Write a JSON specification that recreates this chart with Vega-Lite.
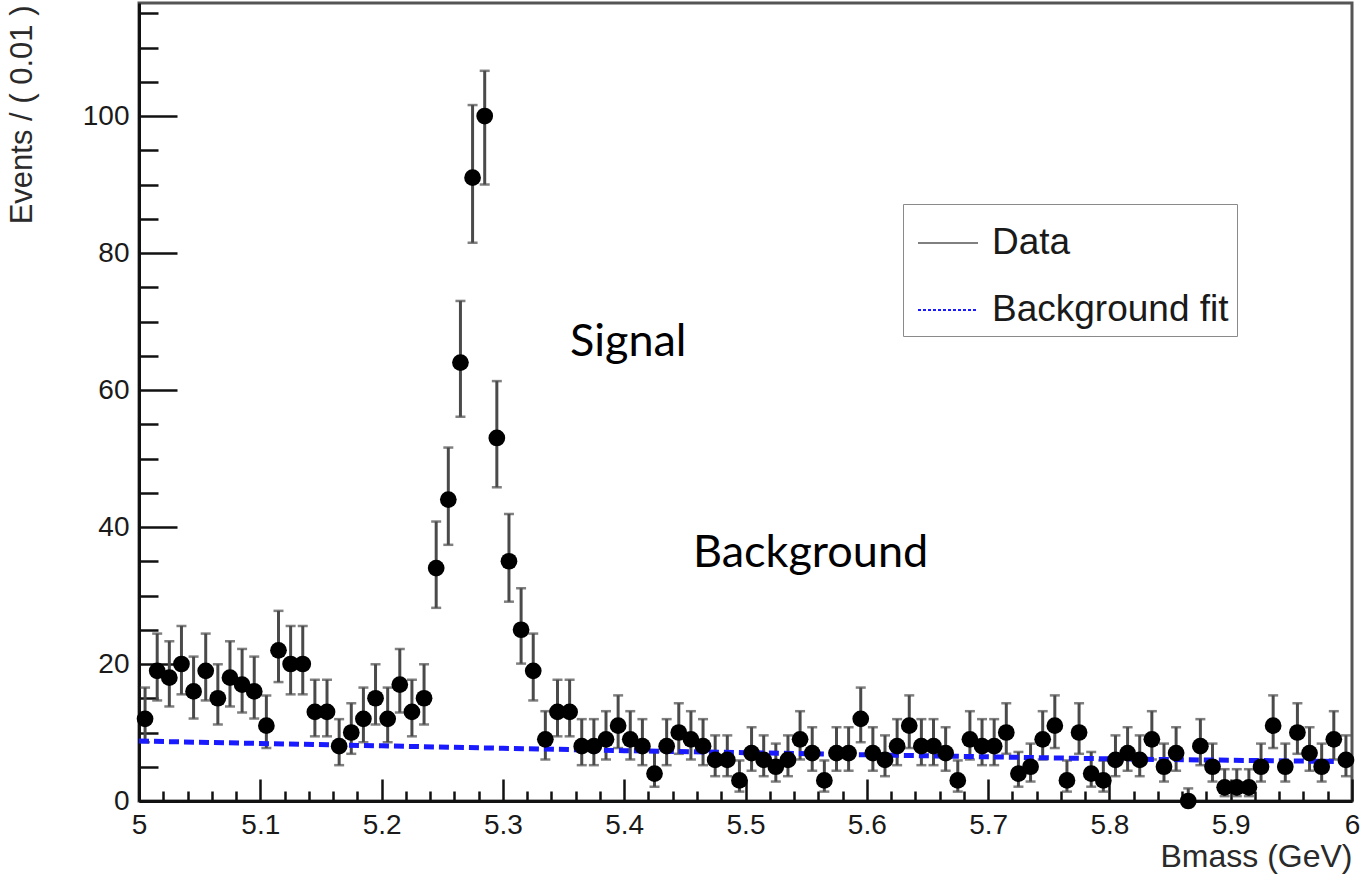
{
  "$schema": "https://vega.github.io/schema/vega-lite/v6.json",
  "width": 1213,
  "height": 798,
  "autosize": {"type": "none"},
  "padding": {"left": 139, "top": 3, "right": 18, "bottom": 78},
  "background": "white",
  "config": {
    "view": {"stroke": "#555555", "strokeWidth": 3},
    "axis": {
      "labelFont": "Liberation Sans",
      "titleFont": "Liberation Sans",
      "labelColor": "#1a1a1a",
      "titleColor": "#2a2a2a",
      "grid": false,
      "labelOverlap": false,
      "labelFlush": false,
      "labelBound": false
    }
  },
  "datasets": {
    "bins": [
      {"m": 5.005, "n": 12, "lo": 8.58, "hi": 16.56},
      {"m": 5.015, "n": 19, "lo": 14.68, "hi": 24.44},
      {"m": 5.025, "n": 18, "lo": 13.80, "hi": 23.32},
      {"m": 5.035, "n": 20, "lo": 15.57, "hi": 25.55},
      {"m": 5.045, "n": 16, "lo": 12.04, "hi": 21.08},
      {"m": 5.055, "n": 19, "lo": 14.68, "hi": 24.44},
      {"m": 5.065, "n": 15, "lo": 11.17, "hi": 19.96},
      {"m": 5.075, "n": 18, "lo": 13.80, "hi": 23.32},
      {"m": 5.085, "n": 17, "lo": 12.92, "hi": 22.20},
      {"m": 5.095, "n": 16, "lo": 12.04, "hi": 21.08},
      {"m": 5.105, "n": 11, "lo": 7.73, "hi": 15.42},
      {"m": 5.115, "n": 22, "lo": 17.36, "hi": 27.76},
      {"m": 5.125, "n": 20, "lo": 15.57, "hi": 25.55},
      {"m": 5.135, "n": 20, "lo": 15.57, "hi": 25.55},
      {"m": 5.145, "n": 13, "lo": 9.44, "hi": 17.70},
      {"m": 5.155, "n": 13, "lo": 9.44, "hi": 17.70},
      {"m": 5.165, "n": 8, "lo": 5.23, "hi": 11.95},
      {"m": 5.175, "n": 10, "lo": 6.89, "hi": 14.27},
      {"m": 5.185, "n": 12, "lo": 8.58, "hi": 16.56},
      {"m": 5.195, "n": 15, "lo": 11.17, "hi": 19.96},
      {"m": 5.205, "n": 12, "lo": 8.58, "hi": 16.56},
      {"m": 5.215, "n": 17, "lo": 12.92, "hi": 22.20},
      {"m": 5.225, "n": 13, "lo": 9.44, "hi": 17.70},
      {"m": 5.235, "n": 15, "lo": 11.17, "hi": 19.96},
      {"m": 5.245, "n": 34, "lo": 28.2, "hi": 40.8},
      {"m": 5.255, "n": 44, "lo": 37.4, "hi": 51.6},
      {"m": 5.265, "n": 64, "lo": 56.1, "hi": 73.0},
      {"m": 5.275, "n": 91, "lo": 81.5, "hi": 101.6},
      {"m": 5.285, "n": 100, "lo": 90.0, "hi": 106.6},
      {"m": 5.295, "n": 53, "lo": 45.8, "hi": 61.3},
      {"m": 5.305, "n": 35, "lo": 29.1, "hi": 41.9},
      {"m": 5.315, "n": 25, "lo": 20.06, "hi": 31.06},
      {"m": 5.325, "n": 19, "lo": 14.68, "hi": 24.44},
      {"m": 5.335, "n": 9, "lo": 6.06, "hi": 13.11},
      {"m": 5.345, "n": 13, "lo": 9.44, "hi": 17.70},
      {"m": 5.355, "n": 13, "lo": 9.44, "hi": 17.70},
      {"m": 5.365, "n": 8, "lo": 5.23, "hi": 11.95},
      {"m": 5.375, "n": 8, "lo": 5.23, "hi": 11.95},
      {"m": 5.385, "n": 9, "lo": 6.06, "hi": 13.11},
      {"m": 5.395, "n": 11, "lo": 7.73, "hi": 15.42},
      {"m": 5.405, "n": 9, "lo": 6.06, "hi": 13.11},
      {"m": 5.415, "n": 8, "lo": 5.23, "hi": 11.95},
      {"m": 5.425, "n": 4, "lo": 2.09, "hi": 7.16},
      {"m": 5.435, "n": 8, "lo": 5.23, "hi": 11.95},
      {"m": 5.445, "n": 10, "lo": 6.89, "hi": 14.27},
      {"m": 5.455, "n": 9, "lo": 6.06, "hi": 13.11},
      {"m": 5.465, "n": 8, "lo": 5.23, "hi": 11.95},
      {"m": 5.475, "n": 6, "lo": 3.62, "hi": 9.58},
      {"m": 5.485, "n": 6, "lo": 3.62, "hi": 9.58},
      {"m": 5.495, "n": 3, "lo": 1.37, "hi": 5.92},
      {"m": 5.505, "n": 7, "lo": 4.42, "hi": 10.77},
      {"m": 5.515, "n": 6, "lo": 3.62, "hi": 9.58},
      {"m": 5.525, "n": 5, "lo": 2.84, "hi": 8.38},
      {"m": 5.535, "n": 6, "lo": 3.62, "hi": 9.58},
      {"m": 5.545, "n": 9, "lo": 6.06, "hi": 13.11},
      {"m": 5.555, "n": 7, "lo": 4.42, "hi": 10.77},
      {"m": 5.565, "n": 3, "lo": 1.37, "hi": 5.92},
      {"m": 5.575, "n": 7, "lo": 4.42, "hi": 10.77},
      {"m": 5.585, "n": 7, "lo": 4.42, "hi": 10.77},
      {"m": 5.595, "n": 12, "lo": 8.58, "hi": 16.56},
      {"m": 5.605, "n": 7, "lo": 4.42, "hi": 10.77},
      {"m": 5.615, "n": 6, "lo": 3.62, "hi": 9.58},
      {"m": 5.625, "n": 8, "lo": 5.23, "hi": 11.95},
      {"m": 5.635, "n": 11, "lo": 7.73, "hi": 15.42},
      {"m": 5.645, "n": 8, "lo": 5.23, "hi": 11.95},
      {"m": 5.655, "n": 8, "lo": 5.23, "hi": 11.95},
      {"m": 5.665, "n": 7, "lo": 4.42, "hi": 10.77},
      {"m": 5.675, "n": 3, "lo": 1.37, "hi": 5.92},
      {"m": 5.685, "n": 9, "lo": 6.06, "hi": 13.11},
      {"m": 5.695, "n": 8, "lo": 5.23, "hi": 11.95},
      {"m": 5.705, "n": 8, "lo": 5.23, "hi": 11.95},
      {"m": 5.715, "n": 10, "lo": 6.89, "hi": 14.27},
      {"m": 5.725, "n": 4, "lo": 2.09, "hi": 7.16},
      {"m": 5.735, "n": 5, "lo": 2.84, "hi": 8.38},
      {"m": 5.745, "n": 9, "lo": 6.06, "hi": 13.11},
      {"m": 5.755, "n": 11, "lo": 7.73, "hi": 15.42},
      {"m": 5.765, "n": 3, "lo": 1.37, "hi": 5.92},
      {"m": 5.775, "n": 10, "lo": 6.89, "hi": 14.27},
      {"m": 5.785, "n": 4, "lo": 2.09, "hi": 7.16},
      {"m": 5.795, "n": 3, "lo": 1.37, "hi": 5.92},
      {"m": 5.805, "n": 6, "lo": 3.62, "hi": 9.58},
      {"m": 5.815, "n": 7, "lo": 4.42, "hi": 10.77},
      {"m": 5.825, "n": 6, "lo": 3.62, "hi": 9.58},
      {"m": 5.835, "n": 9, "lo": 6.06, "hi": 13.11},
      {"m": 5.845, "n": 5, "lo": 2.84, "hi": 8.38},
      {"m": 5.855, "n": 7, "lo": 4.42, "hi": 10.77},
      {"m": 5.865, "n": 0, "lo": 0, "hi": 1.84},
      {"m": 5.875, "n": 8, "lo": 5.23, "hi": 11.95},
      {"m": 5.885, "n": 5, "lo": 2.84, "hi": 8.38},
      {"m": 5.895, "n": 2, "lo": 0.71, "hi": 4.64},
      {"m": 5.905, "n": 2, "lo": 0.71, "hi": 4.64},
      {"m": 5.915, "n": 2, "lo": 0.71, "hi": 4.64},
      {"m": 5.925, "n": 5, "lo": 2.84, "hi": 8.38},
      {"m": 5.935, "n": 11, "lo": 7.73, "hi": 15.42},
      {"m": 5.945, "n": 5, "lo": 2.84, "hi": 8.38},
      {"m": 5.955, "n": 10, "lo": 6.89, "hi": 14.27},
      {"m": 5.965, "n": 7, "lo": 4.42, "hi": 10.77},
      {"m": 5.975, "n": 5, "lo": 2.84, "hi": 8.38},
      {"m": 5.985, "n": 9, "lo": 6.06, "hi": 13.11},
      {"m": 5.995, "n": 6, "lo": 3.62, "hi": 9.58}
    ],
    "fit": [
      {"m": 5.0, "bkg": 8.75, "series": "Background fit"},
      {"m": 5.1, "bkg": 8.4, "series": "Background fit"},
      {"m": 5.2, "bkg": 8.05, "series": "Background fit"},
      {"m": 5.3, "bkg": 7.7, "series": "Background fit"},
      {"m": 5.4, "bkg": 7.35, "series": "Background fit"},
      {"m": 5.5, "bkg": 7.05, "series": "Background fit"},
      {"m": 5.6, "bkg": 6.75, "series": "Background fit"},
      {"m": 5.7, "bkg": 6.45, "series": "Background fit"},
      {"m": 5.8, "bkg": 6.15, "series": "Background fit"},
      {"m": 5.9, "bkg": 5.95, "series": "Background fit"},
      {"m": 6.0, "bkg": 5.75, "series": "Background fit"}
    ],
    "notes": [
      {"label": "Signal"},
      {"label": "Background"}
    ]
  },
  "resolve": {"axis": {"x": "independent", "y": "independent"}},
  "layer": [
    {
      "data": {"name": "bins"},
      "mark": {"type": "rule", "color": "#4a4a4a", "strokeWidth": 3},
      "encoding": {
        "x": {
          "field": "m", "type": "quantitative",
          "scale": {"domain": [5, 6], "nice": false, "zero": false},
          "axis": {
            "orient": "bottom",
            "values": [5.02, 5.04, 5.06, 5.08, 5.12, 5.14, 5.16, 5.18, 5.22, 5.24, 5.26, 5.28, 5.32, 5.34, 5.36, 5.38, 5.42, 5.44, 5.46, 5.48, 5.52, 5.54, 5.56, 5.58, 5.62, 5.64, 5.66, 5.68, 5.72, 5.74, 5.76, 5.78, 5.82, 5.84, 5.86, 5.88, 5.92, 5.94, 5.96, 5.98],
            "labels": false, "domain": false, "title": null,
            "tickSize": -10, "tickWidth": 2.5, "tickColor": "#111111"
          }
        },
        "y": {
          "field": "lo", "type": "quantitative",
          "scale": {"domain": [0, 116.5], "nice": false, "zero": false},
          "axis": {
            "orient": "left",
            "values": [5, 10, 15, 25, 30, 35, 45, 50, 55, 65, 70, 75, 85, 90, 95, 105, 110, 115],
            "labels": false, "domain": false, "title": null,
            "tickSize": -19, "tickWidth": 2.5, "tickColor": "#111111"
          }
        },
        "y2": {"field": "hi"}
      }
    },
    {
      "data": {"name": "bins"},
      "mark": {"type": "tick", "orient": "horizontal", "color": "#4a4a4a", "size": 10, "thickness": 2.5},
      "encoding": {
        "x": {"field": "m", "type": "quantitative", "axis": null},
        "y": {"field": "hi", "type": "quantitative", "axis": null}
      }
    },
    {
      "data": {"name": "bins"},
      "mark": {"type": "tick", "orient": "horizontal", "color": "#4a4a4a", "size": 10, "thickness": 2.5},
      "encoding": {
        "x": {"field": "m", "type": "quantitative", "axis": null},
        "y": {"field": "lo", "type": "quantitative", "axis": null}
      }
    },
    {
      "data": {"name": "fit"},
      "mark": {"type": "line", "strokeWidth": 5, "strokeDash": [10, 5]},
      "encoding": {
        "x": {"field": "m", "type": "quantitative", "axis": null},
        "y": {"field": "bkg", "type": "quantitative", "axis": null},
        "color": {
          "field": "series", "type": "nominal",
          "scale": {"domain": ["Data", "Background fit"], "range": ["#808080", "#1a1aff"]},
          "legend": {
            "title": null,
            "orient": "none",
            "legendX": 764,
            "legendY": 201,
            "symbolType": "stroke",
            "symbolSize": 3600,
            "symbolStrokeWidth": 2,
            "symbolOffset": 6,
            "padding": 8,
            "rowPadding": 18,
            "labelOffset": 13,
            "labelFont": "Liberation Sans",
            "labelFontSize": 37,
            "labelColor": "#1a1a1a",
            "labelLimit": 400,
            "strokeColor": "#8a8a8a",
            "fillColor": "white",
            "encode": {
              "symbols": {
                "update": {
                  "strokeDash": {"signal": "datum.value === 'Data' ? [1, 0] : [3, 2]"},
                  "strokeWidth": {"value": 2}
                }
              }
            }
          }
        }
      }
    },
    {
      "data": {"name": "bins"},
      "mark": {"type": "point", "shape": "circle", "filled": true, "color": "#000000", "opacity": 1, "size": 280},
      "encoding": {
        "x": {
          "field": "m", "type": "quantitative",
          "axis": {
            "orient": "bottom",
            "values": [5, 5.1, 5.2, 5.3, 5.4, 5.5, 5.6, 5.7, 5.8, 5.9, 6],
            "format": "~g",
            "labelFontSize": 28,
            "labelPadding": 32,
            "tickSize": -22, "tickWidth": 2.5, "tickColor": "#111111",
            "domainColor": "#111111", "domainWidth": 3,
            "title": "Bmass (GeV)",
            "titleFontSize": 32,
            "titleFontWeight": "normal",
            "titleAnchor": "end",
            "titleAlign": "right",
            "titleBaseline": "alphabetic",
            "titleX": 1213,
            "titleY": 65
          }
        },
        "y": {
          "field": "n", "type": "quantitative",
          "axis": {
            "orient": "left",
            "values": [0, 20, 40, 60, 80, 100],
            "labelFontSize": 28,
            "labelPadding": 48,
            "tickSize": -38, "tickWidth": 2.5, "tickColor": "#111111",
            "domainColor": "#111111", "domainWidth": 3,
            "title": "Events / ( 0.01 )",
            "titleFontSize": 31,
            "titleFontWeight": "normal",
            "titleAngle": -90,
            "titleAlign": "right",
            "titleBaseline": "middle",
            "titleX": -117,
            "titleY": 2
          }
        }
      }
    },
    {
      "data": {"name": "notes"},
      "transform": [{"filter": "datum.label === 'Signal'"}],
      "mark": {"type": "text", "font": "Lato", "fontSize": 45, "color": "#000000", "align": "left", "baseline": "alphabetic"},
      "encoding": {
        "text": {"field": "label"},
        "x": {"datum": 5.3553, "type": "quantitative", "axis": null},
        "y": {"datum": 64.9, "type": "quantitative", "axis": null}
      }
    },
    {
      "data": {"name": "notes"},
      "transform": [{"filter": "datum.label === 'Background'"}],
      "mark": {"type": "text", "font": "Lato", "fontSize": 45, "color": "#000000", "align": "left", "baseline": "alphabetic"},
      "encoding": {
        "text": {"field": "label"},
        "x": {"datum": 5.4567, "type": "quantitative", "axis": null},
        "y": {"datum": 34.1, "type": "quantitative", "axis": null}
      }
    }
  ]
}
